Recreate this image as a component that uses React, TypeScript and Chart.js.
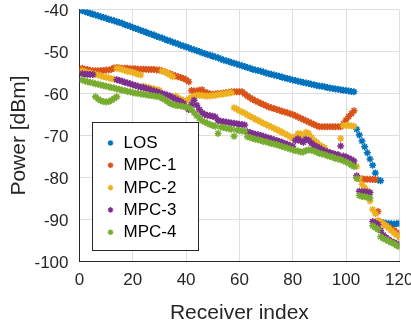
import React, { useEffect, useRef } from 'react';
import { Chart, registerables } from 'chart.js';

Chart.register(...registerables);

const FONT = '"Liberation Sans", Arial, Helvetica, sans-serif';
const AXIS_COLOR = '#262626';

// Receiver index categories 1..120
const receiverIndex: number[] = Array.from({ length: 120 }, (_, i) => i + 1);

const xTicks = [0, 20, 40, 60, 80, 100, 120];
const yTicks = [-100, -90, -80, -70, -60, -50, -40];

const seriesNames = ['LOS', 'MPC-1', 'MPC-2', 'MPC-3', 'MPC-4'];
const seriesColors = ['#0072BD', '#D95319', '#EDB120', '#7E2F8E', '#77AC30'];

const los: (number | null)[] = [
  -40.3, -40.5, -40.7, -40.9, -41.1, -41.3, -41.5, -41.7, -41.9, -42.1,
  -42.3, -42.5, -42.7, -42.9, -43.1, -43.3, -43.6, -43.8, -44.0, -44.3,
  -44.5, -44.7, -45.0, -45.2, -45.4, -45.7, -45.9, -46.1, -46.4, -46.6,
  -46.8, -47.1, -47.3, -47.5, -47.8, -48.0, -48.2, -48.5, -48.7, -48.9,
  -49.1, -49.4, -49.6, -49.8, -50.0, -50.3, -50.5, -50.7, -50.9, -51.1,
  -51.3, -51.5, -51.8, -52.0, -52.2, -52.4, -52.6, -52.8, -53.0, -53.2,
  -53.4, -53.6, -53.8, -54.0, -54.2, -54.4, -54.5, -54.7, -54.9, -55.1,
  -55.3, -55.4, -55.6, -55.8, -55.9, -56.1, -56.3, -56.4, -56.6, -56.8,
  -56.9, -57.1, -57.2, -57.4, -57.5, -57.6, -57.8, -57.9, -58.1, -58.2,
  -58.3, -58.4, -58.6, -58.7, -58.8, -58.9, -59.0, -59.1, -59.2, -59.3,
  -59.4, -59.5, -59.6, -68.5, -69.9, -71.3, -72.7, -74.1, -75.6, -77.1,
  -78.9, -80.6, -80.8, -90.8, -90.9, -91.0, -91.0, -91.1, -91.0, -90.9,
];

const mpc1: (number | null)[] = [
  -54.0, -54.2, -54.3, -54.5, -54.6, -54.6, -54.6, -54.5, -54.5, -54.4,
  -54.4, -54.2, -53.9, -53.8, -53.9, -54.0, -54.0, -54.0, -54.1, -54.1,
  -54.1, -54.2, -54.2, -54.2, -54.2, -54.3, -54.3, -54.3, -54.4, -54.4,
  -54.6, -54.8, -55.1, -55.3, -55.6, -55.8, -56.0, -56.2, -56.4, -56.7,
  -57.2, -59.3, -59.4, -59.4, -59.2, -59.1, -59.7, -59.9, -60.1, -60.2,
  -60.1, -60.0, -60.0, -59.9, -59.8, -59.7, -59.6, -59.6, -59.6, -59.6,
  -59.6, -60.1, -60.6, -61.0, -61.4, -61.7, -62.0, -62.3, -62.6, -62.9,
  -63.2, -63.4, -63.6, -63.8, -64.0, -64.2, -64.4, -64.6, -64.8, -65.0,
  -65.3, -65.6, -65.9, -66.2, -66.5, -66.8, -67.1, -67.4, -67.7, -67.9,
  -67.9, -67.9, -67.9, -67.9, -67.9, -67.9, -67.9, -67.9, -67.2, -66.3,
  -65.5, -64.8, -64.1, -80.2, -80.3, -80.3, -80.4, -80.4, -80.4, -80.5,
  -80.5, -88.1, -90.6, -91.0, -91.4, -91.8, -92.2, -92.6, -93.1, -93.6,
];

const mpc2: (number | null)[] = [
  -54.6, -54.8, -55.0, -55.1, -55.3, -55.5, -55.6, -55.8, -56.0, -56.1,
  -56.3, -56.5, -56.6, -54.0, -54.1, -54.3, -54.5, -54.7, -54.8, -55.0,
  -55.2, -55.4, -55.6, -58.3, -58.5, -58.6, -58.8, -58.9, -59.1, -59.2,
  -54.6, -54.9, -55.2, -55.6, -56.0, -60.6, -61.0, -61.4, -61.6, -61.8,
  -61.3, -60.9, -60.6, -60.4, -60.4, -60.5, -60.6, -60.6, -60.6, -60.5,
  -60.4, -60.3, -60.2, -60.1, -60.0, -59.9, -59.8, -63.4, -63.7, -64.1,
  -64.4, -64.7, -65.1, -65.4, -65.8, -66.1, -66.4, -66.8, -67.1, -67.4,
  -67.7, -68.0, -68.3, -68.6, -68.9, -69.2, -69.6, -69.9, -70.3, -70.7,
  -70.3, -69.5, -69.6, -70.2, -69.2, -69.5, -70.4, -71.2, -71.6, -72.2,
  -72.6, -72.9, -73.9, -74.1, -74.3, -74.5, -74.6, -70.7, -67.6, -67.6,
  -67.7, -67.7, -67.8, -77.4, -80.2, -81.6, -82.4, -83.1, -85.6, -87.6,
  -88.6, -90.2, -90.6, -91.0, -91.5, -92.0, -92.6, -93.2, -93.7, -94.2,
];

const mpc3: (number | null)[] = [
  -55.3, -55.4, -55.4, -55.5, -55.5, null, null, null, null, null,
  null, null, null, -56.7, -56.9, -57.1, -57.3, -57.5, -57.7, -57.9,
  -58.1, -58.3, -58.5, -58.6, -58.8, -59.0, -59.2, -59.4, -59.6, -59.8,
  -60.0, -60.2, -60.4, -60.6, -61.0, -61.3, -61.6, -61.9, -62.3, -63.2,
  -63.8, -62.6, -61.6, -62.8, -63.8, -64.6, -65.0, -65.2, -65.3, -65.4,
  -65.6, -66.4, -66.6, -66.7, -66.8, -66.9, -67.0, -67.1, -67.2, -67.3,
  -67.4, -67.5, -69.1, -69.3, -69.5, -69.7, -69.8, -70.0, -70.2, -70.4,
  -70.6, -70.8, -71.0, -71.2, -71.4, -71.6, -71.9, -72.1, -72.4, -72.6,
  -71.2, -70.8, -71.3, -71.6, -70.9, -71.2, -71.8, -72.3, -72.7, -73.0,
  -73.4, -73.7, -73.9, -74.1, -74.3, -74.5, -74.6, -72.5, -74.9, -75.1,
  -75.4, -75.7, -76.1, -79.6, -83.3, -83.4, -83.4, -83.5, -83.6, -90.5,
  -90.8, -91.2, -92.6, -93.7, -94.3, -94.8, -95.2, -95.5, -95.8, -96.1,
];

const mpc4: (number | null)[] = [
  -56.8, -57.0, -57.2, -57.3, -57.5, -57.7, -57.8, -58.0, -58.1, -58.3,
  -58.4, -58.6, -58.7, -58.9, -59.0, -59.2, -59.3, -59.5, -59.6, -59.8,
  -59.9, -60.0, -60.1, -60.2, -60.3, -60.4, -60.5, -60.6, -60.7, -60.8,
  -61.1, -61.5, -61.9, -62.3, -62.6, -62.8, -62.9, -63.0, -63.1, -63.2,
  -63.4, -63.8, -64.6, -65.3, -65.9, -66.5, -66.8, -67.1, -67.4, -67.6,
  -67.8, -69.5, -68.0, -68.1, -68.3, -68.4, -68.5, -70.2, -68.7, -68.8,
  -68.9, -69.0, -70.3, -70.5, -70.7, -70.9, -71.0, -71.2, -71.4, -71.5,
  -71.7, -71.9, -72.0, -72.2, -72.4, -72.6, -72.8, -73.0, -73.2, -73.4,
  -73.6, -73.7, -73.9, -73.9, -73.6, -73.4, -73.5, -73.7, -74.0, -74.2,
  -74.4, -74.6, -74.8, -75.0, -75.2, -75.4, -75.6, -75.8, -76.0, -76.3,
  -76.6, -77.0, -77.4, -80.2, -84.3, -84.5, -84.6, -84.7, -84.9, -91.5,
  -91.9, -92.4, -94.1, -94.5, -94.8, -95.2, -95.5, -95.8, -96.2, -96.5,
];

// Second MPC-4 track seen at receivers 6..14
const mpc4ExtraIndex = [6, 7, 8, 9, 10, 11, 12, 13, 14];
const mpc4Extra = [-60.8, -61.3, -61.7, -61.9, -62.0, -61.9, -61.6, -61.2, -60.8];

const seriesValues = [los, mpc1, mpc2, mpc3, mpc4];

function toPoints(vals: (number | null)[]) {
  const pts: { x: number; y: number }[] = [];
  vals.forEach((v, i) => {
    if (v !== null) pts.push({ x: receiverIndex[i], y: v });
  });
  return pts;
}

function drawStar(ctx: CanvasRenderingContext2D, x: number, y: number, r: number) {
  ctx.beginPath();
  ctx.moveTo(x - r, y);
  ctx.lineTo(x + r, y);
  ctx.moveTo(x, y - r);
  ctx.lineTo(x, y + r);
  const d = r * Math.SQRT1_2;
  ctx.moveTo(x - d, y - d);
  ctx.lineTo(x + d, y + d);
  ctx.moveTo(x - d, y + d);
  ctx.lineTo(x + d, y - d);
  ctx.stroke();
}

const boxLegend = {
  id: 'boxLegend',
  afterDraw(chart: any) {
    const { ctx, chartArea } = chart;
    const x0 = Math.round(chartArea.left + 12.5) + 0.5;
    const y0 = Math.round(chartArea.top + 112.5) + 0.5;
    const w = 106;
    const h = 128;
    ctx.save();
    ctx.fillStyle = '#ffffff';
    ctx.fillRect(x0, y0, w, h);
    ctx.strokeStyle = AXIS_COLOR;
    ctx.lineWidth = 1;
    ctx.strokeRect(x0, y0, w, h);
    seriesNames.forEach((name, i) => {
      const cy = y0 + 20.5 + i * 22.3;
      ctx.strokeStyle = seriesColors[i];
      ctx.lineWidth = 1.4;
      drawStar(ctx, x0 + 18, cy, 2.8);
      ctx.fillStyle = '#000000';
      ctx.font = `17px ${FONT}`;
      ctx.textAlign = 'left';
      ctx.textBaseline = 'middle';
      ctx.fillText(name, x0 + 31, cy + 0.5);
    });
    ctx.restore();
  },
};

export default function App() {
  const ref = useRef<HTMLCanvasElement>(null);

  useEffect(() => {
    if (!ref.current) return;
    const datasets = seriesNames.map((name, i) => {
      let data = toPoints(seriesValues[i]);
      if (i === 4) {
        data = data.concat(mpc4ExtraIndex.map((x, k) => ({ x, y: mpc4Extra[k] })));
      }
      return {
        label: name,
        data,
        showLine: false,
        pointStyle: 'star' as const,
        pointRadius: 3.5,
        pointBorderWidth: 1.5,
        borderColor: seriesColors[i],
        backgroundColor: seriesColors[i],
        order: 4 - i,
      };
    });

    const chart = new Chart(ref.current, {
      type: 'scatter',
      data: { datasets },
      options: {
        responsive: false,
        animation: false,
        devicePixelRatio: 1,
        layout: {
          padding: { left: 0, right: 11.7, top: 9.5, bottom: 0 },
        },
        plugins: {
          legend: { display: false },
          tooltip: { enabled: false },
        },
        scales: {
          x: {
            type: 'linear',
            min: xTicks[0],
            max: xTicks[xTicks.length - 1],
            afterBuildTicks: (s: any) => {
              s.ticks = xTicks.map((v) => ({ value: v }));
            },
            afterFit: (s: any) => {
              s.height = 64.5;
              s.paddingLeft = 0;
              s.paddingRight = 0;
            },
            ticks: {
              padding: 9,
              color: AXIS_COLOR,
              font: { family: FONT, size: 17 },
              maxRotation: 0,
            },
            grid: { color: '#dfdfdf', drawTicks: false, lineWidth: 1 },
            border: { color: AXIS_COLOR, width: 1 },
            title: {
              display: true,
              text: 'Receiver index',
              color: AXIS_COLOR,
              font: { family: FONT, size: 21 },
              padding: { top: 0, bottom: 0 },
            },
          },
          y: {
            type: 'linear',
            min: yTicks[0],
            max: yTicks[yTicks.length - 1],
            afterBuildTicks: (s: any) => {
              s.ticks = yTicks.map((v) => ({ value: v }));
            },
            afterFit: (s: any) => {
              s.width = 79.5;
              s.paddingTop = 0;
              s.paddingBottom = 0;
            },
            ticks: {
              padding: 11,
              labelOffset: 2,
              color: AXIS_COLOR,
              font: { family: FONT, size: 17 },
            },
            grid: { color: '#dfdfdf', drawTicks: false, lineWidth: 1 },
            border: { color: AXIS_COLOR, width: 1 },
            title: {
              display: true,
              text: 'Power [dBm]',
              color: AXIS_COLOR,
              font: { family: FONT, size: 21 },
              padding: { top: 6.5, bottom: 0 },
            },
          },
        },
      },
      plugins: [boxLegend],
    });
    return () => chart.destroy();
  }, []);

  return (
    <div style={{ position: 'fixed', left: 0, top: 0, width: 411, height: 326, background: '#ffffff' }}>
      <canvas ref={ref} width={411} height={326} style={{ display: 'block', width: 411, height: 326 }} />
    </div>
  );
}
